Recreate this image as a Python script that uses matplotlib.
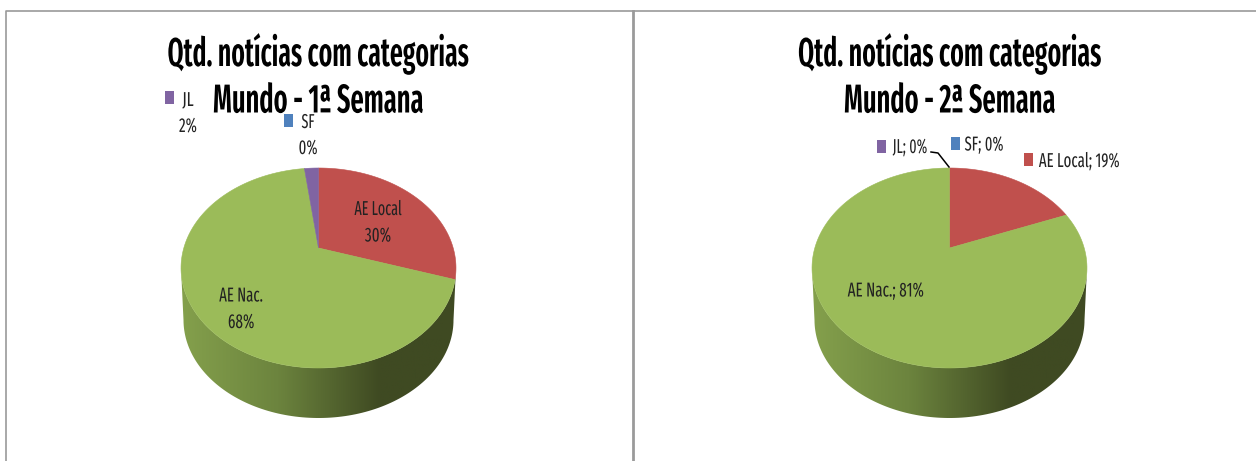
"""Two pseudo-3D pie charts: news counts by category, weeks 1 and 2."""

import numpy as np
import matplotlib
matplotlib.use('Agg')
import matplotlib.pyplot as plt
from matplotlib import font_manager
from matplotlib.colors import LinearSegmentedColormap
from matplotlib.patches import PathPatch, Polygon, Rectangle
from matplotlib.path import Path
from matplotlib.patheffects import AbstractPathEffect
from matplotlib.transforms import Affine2D

categories = ['SF', 'AE Local', 'AE Nac.', 'JL']
week1_values = [0, 30, 68, 2]
week2_values = [0, 19, 81, 0]
title_lines = ['Qtd. notícias com categorias', 'Mundo - {}ª Semana']

colors = {'SF': '#4F81BD', 'AE Local': '#C0504D', 'AE Nac.': '#9BBB59', 'JL': '#8064A2'}

names = {f.name for f in font_manager.fontManager.ttflist}
FONT = 'Liberation Sans'
for cand in ['Fira Sans Extra Condensed', 'Roboto Condensed', 'Liberation Sans Narrow']:
    if cand in names:
        FONT = cand
        break

side_cmap = LinearSegmentedColormap.from_list(
    'side', [(0, '#84A04C'), (0.35, '#6C843E'), (0.72, '#3F4A22'), (1, '#3F4A22')])


class FitWidth(AbstractPathEffect):
    # the source is a squeezed bitmap, so text gets squeezed to its measured width
    def __init__(self, width):
        super().__init__()
        self.width = width

    def draw_path(self, renderer, gc, tpath, affine, rgbFace=None):
        box = tpath.get_extents()
        scale = affine.get_matrix()[0, 0]
        sx = self.width / (box.width * scale)
        mid = (box.x0 + box.x1) / 2
        squeeze = Affine2D().translate(-mid, 0).scale(sx, 1).translate(mid, 0)
        renderer.draw_path(gc, tpath, squeeze + affine, rgbFace)


def project(theta, cx):
    # top face is a circle seen in perspective, so the apex sits above the ellipse centre
    u, v = np.sin(theta), np.cos(theta)
    w = 1 + 0.2 * v
    return cx + 134.7 * u / w, 268 - (100 * v + 20) / w


def draw_pie(ax, cx, values):
    # side wall first
    t = np.linspace(np.pi, 0, 120)
    top_x, top_y = cx + 137.5 * np.cos(t), 268 + 100 * np.sin(t)
    bot_x, bot_y = cx + 135 * np.cos(t[::-1]), 320 + 98 * np.sin(t[::-1])
    verts = np.column_stack([np.r_[top_x, bot_x], np.r_[top_y, bot_y]])
    clip = PathPatch(Path(np.vstack([verts, verts[0]]), closed=True), fc='none', ec='none')
    ax.add_patch(clip)
    img = ax.imshow(np.linspace(0, 1, 256).reshape(1, -1), cmap=side_cmap, aspect='auto',
                    extent=[cx - 138, cx + 138, 420, 260], zorder=1)
    img.set_clip_path(clip)

    # top face, wedges measured clockwise from twelve o'clock
    start = 0.0
    for name, val in zip(categories, values):
        if val > 0:
            th = np.linspace(start, start + val / 100 * 2 * np.pi, 200)
            x, y = project(th, cx)
            pts = np.column_stack([np.r_[cx, x], np.r_[248, y]])
            ax.add_patch(Polygon(pts, closed=True, fc=colors[name], ec=colors[name], lw=0.4, zorder=2))
        start += val / 100 * 2 * np.pi


def label(ax, x, base, text, width, size=14.5):
    ax.text(x, base, text, ha='center', va='baseline', fontsize=size, family=FONT,
            color='#222222', zorder=5, path_effects=[FitWidth(width)])


def key(ax, x, y, name):
    ax.add_patch(Rectangle((x - 4.5, y - 6.5), 9, 13, fc=colors[name], ec='none', zorder=5))


def main():
    fig = plt.figure(figsize=(12.56, 4.61), dpi=100)
    ax = fig.add_axes([0, 0, 1, 1])
    ax.set_xlim(0, 1256)
    ax.set_ylim(461, 0)
    ax.axis('off')

    # panel frame
    ax.plot([5.5, 5.5, 1256], [461, 11, 11], color='#9a9a9a', lw=1.2)
    ax.plot([632.5, 632.5], [11, 461], color='#9a9a9a', lw=2)

    draw_pie(ax, 318.5, week1_values)
    draw_pie(ax, 949.5, week2_values)
    ax.set_xlim(0, 1256)
    ax.set_ylim(461, 0)

    for cx, week, w1, w2 in [(318, 1, 300, 209), (949.5, 2, 302, 210)]:
        for base, line, w in [(66, title_lines[0], w1), (112.5, title_lines[1].format(week), w2)]:
            ax.text(cx, base, line, ha='center', va='baseline', fontsize=29, family=FONT,
                    weight='semibold', color='black', zorder=4, path_effects=[FitWidth(w)])

    # week 1 labels
    key(ax, 169, 98, 'JL')
    label(ax, 188, 106, 'JL', 11)
    label(ax, 188, 132, f'{week1_values[3]}%', 17)
    key(ax, 288, 120, 'SF')
    label(ax, 308, 128, 'SF', 12.5)
    label(ax, 308, 154, f'{week1_values[0]}%', 17.5)
    label(ax, 378, 215, 'AE Local', 47)
    label(ax, 378, 241.5, f'{week1_values[1]}%', 25.5)
    label(ax, 241, 301.5, 'AE Nac.', 43)
    label(ax, 241, 328, f'{week1_values[2]}%', 25)

    # week 2 labels
    key(ax, 881.5, 146, 'JL')
    label(ax, 910, 153, f'JL; {week2_values[3]}%', 34)
    key(ax, 955, 143, 'SF')
    label(ax, 984, 150.5, f'SF; {week2_values[0]}%', 38)
    key(ax, 1028, 159, 'AE Local')
    label(ax, 1079, 167, f'AE Local; {week2_values[1]}%', 80)
    label(ax, 885.5, 296.5, f'AE Nac.; {week2_values[2]}%', 75.5)
    ax.plot([931, 938, 949], [152, 153, 167], color='black', lw=1.1, zorder=5)

    fig.savefig('out.png', dpi=100)


if __name__ == '__main__':
    main()
